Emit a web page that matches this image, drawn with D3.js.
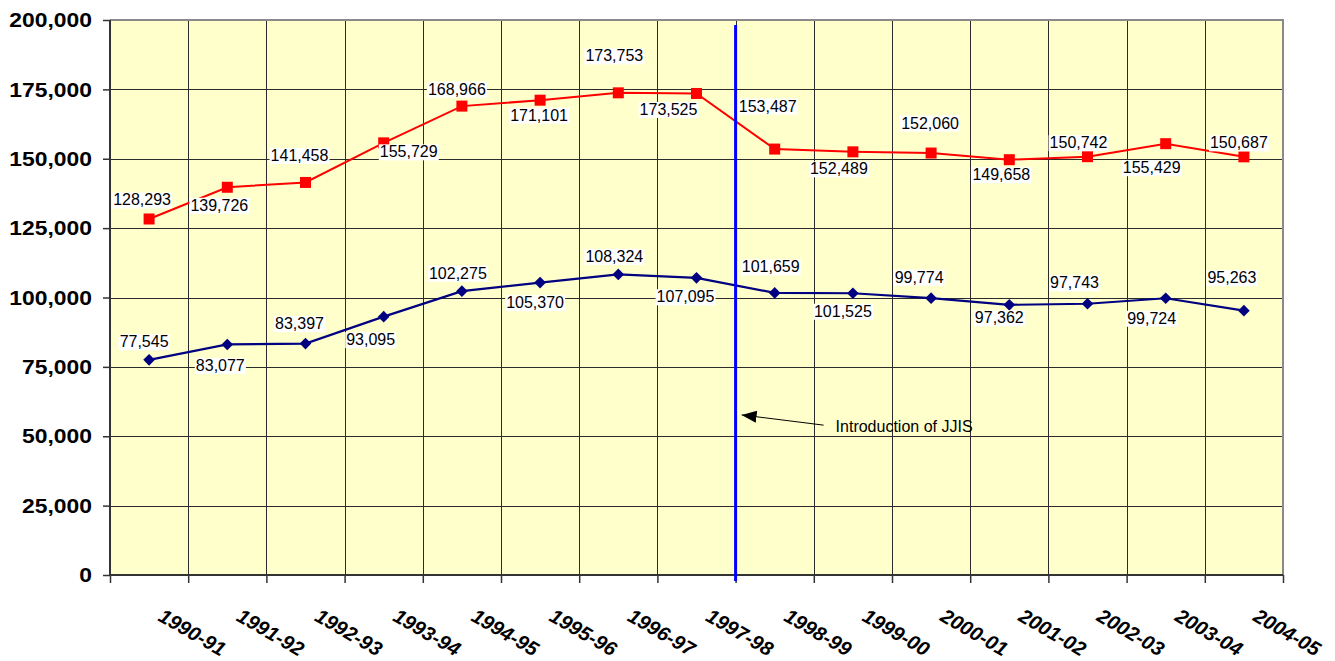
<!DOCTYPE html>
<html>
<head>
<meta charset="utf-8">
<script src="https://cdn.jsdelivr.net/npm/d3@7"></script>
<style>
  html, body { margin: 0; padding: 0; background: #fff; }
  svg { display: block; font-family: Arial, "Liberation Sans", sans-serif; }
</style>
</head>
<body>
<svg id="chart" width="1335" height="661"></svg>
<script>
// Fiscal years on the category axis
const years = ["1990-91","1991-92","1992-93","1993-94","1994-95","1995-96","1996-97",
  "1997-98","1998-99","1999-00","2000-01","2001-02","2002-03","2003-04","2004-05"];

// Upper series (red squares)
const redValues = [128293,139726,141458,155729,168966,171101,173753,173525,
  153487,152489,152060,149658,150742,155429,150687];

// Lower series (navy diamonds)
const blueValues = [77545,83077,83397,93095,102275,105370,108324,107095,
  101659,101525,99774,97362,97743,99724,95263];

// Value-axis tick labels
const yTicks = [0,25000,50000,75000,100000,125000,150000,175000,200000];

// Where JJIS came in: boundary between 1997-98 and 1998-99
const jjisBoundary = 8;
const jjisText = "Introduction of JJIS";

// Data-label placement (offset of label centre from its marker, px)
const redLabelOffsets = [[-7,-19],[-8,18],[-6,-27],[25,9],[-5,-17],[-1,15],[-4,-37],[-28,16],
  [-7,-43],[-14,17],[-1,-30],[-8,15],[-9,-14],[-14,24],[-5,-14]];
const blueLabelOffsets = [[-5,-18],[-7,21],[-6,-20],[-13,23],[-4,-18],[-5,20],[-4,-18],[-11,19],
  [-4,-26],[-10,18],[-12,-21],[-10,13],[-13,-21],[-14,20],[-12,-33]];

const svg = d3.select("#chart");
const plot = {left: 110, right: 1283, top: 20, bottom: 575};

const xb = d3.scaleLinear().domain([0, years.length]).range([plot.left, plot.right]);
const xc = i => xb(i + 0.5);
const y = d3.scaleLinear().domain([0, 200000]).range([plot.bottom, plot.top]);

// Plot background
svg.append("rect")
  .attr("x", plot.left).attr("y", plot.top)
  .attr("width", plot.right - plot.left).attr("height", plot.bottom - plot.top)
  .attr("fill", "#FFFFCC");

// Gridlines
const grid = svg.append("g").attr("stroke", "#2b2b2b").attr("stroke-width", 1);
grid.selectAll("line.h").data(yTicks.slice(1, -1)).join("line")
  .attr("x1", plot.left).attr("x2", plot.right)
  .attr("y1", d => Math.round(y(d)) + 0.5).attr("y2", d => Math.round(y(d)) + 0.5);
grid.selectAll("line.v").data(d3.range(1, years.length)).join("line")
  .attr("y1", plot.top).attr("y2", plot.bottom)
  .attr("x1", d => Math.round(xb(d)) + 0.5).attr("x2", d => Math.round(xb(d)) + 0.5);

// Top and right frame
svg.append("path")
  .attr("d", `M${plot.left},${plot.top}H${plot.right}V${plot.bottom}`)
  .attr("fill", "none").attr("stroke", "#8a8a8a").attr("stroke-width", 2);

// Value axis
const yAxis = svg.append("g")
  .attr("transform", `translate(${plot.left},0)`)
  .call(d3.axisLeft(y).tickValues(yTicks).tickFormat(d3.format(",")).tickSize(7).tickPadding(0));
yAxis.select(".domain").attr("stroke", "#333").attr("stroke-width", 2)
  .attr("d", `M0,${plot.top}V${plot.bottom}`);
yAxis.selectAll(".tick line").attr("stroke", "#333").attr("stroke-width", 1.5);
const yStretch = 1.09;
yAxis.selectAll(".tick text")
  .attr("x", -18 / yStretch)
  .attr("transform", `scale(${yStretch},1)`)
  .attr("fill", "#000")
  .style("font-size", "21px").style("font-weight", "bold");

// Category axis: ticks on band boundaries
const xAxis = svg.append("g")
  .attr("transform", `translate(0,${plot.bottom})`)
  .call(d3.axisBottom(xb).tickValues(d3.range(0, years.length + 1)).tickFormat("").tickSize(8));
xAxis.select(".domain").attr("stroke", "#333").attr("stroke-width", 2)
  .attr("d", `M${plot.left},0H${plot.right}`);
xAxis.selectAll(".tick line").attr("stroke", "#333").attr("stroke-width", 1.5);

// Rotated category labels
svg.append("g").selectAll("text").data(years).join("text")
  .attr("transform", (d, i) => `translate(${xc(i) + 8},620) rotate(30)`)
  .attr("text-anchor", "start")
  .style("font-size", "20px").style("font-weight", "bold").style("font-style", "italic")
  .attr("fill", "#000")
  .text(d => d);

// Series lines and markers
const line = d3.line().x((d, i) => xc(i)).y(d => y(d));

svg.append("path").datum(redValues)
  .attr("d", line).attr("fill", "none").attr("stroke", "#FF0000").attr("stroke-width", 2);
svg.append("path").datum(blueValues)
  .attr("d", line).attr("fill", "none").attr("stroke", "#000080").attr("stroke-width", 2.2);

svg.append("g").selectAll("rect").data(redValues).join("rect")
  .attr("x", (d, i) => xc(i) - 5.5).attr("y", d => y(d) - 5.5)
  .attr("width", 11).attr("height", 11).attr("fill", "#FF0000");

svg.append("g").selectAll("path").data(blueValues).join("path")
  .attr("transform", (d, i) => `translate(${xc(i)},${y(d)}) rotate(45)`)
  .attr("d", d3.symbol().type(d3.symbolSquare).size(68))
  .attr("fill", "#000080");

// Data labels with white backgrounds
function drawLabels(values, offsets) {
  const g = svg.append("g");
  values.forEach((v, i) => {
    const cx = xc(i) + offsets[i][0];
    const cy = y(v) + offsets[i][1];
    const lg = g.append("g");
    const bg = lg.append("rect").attr("fill", "#fff");
    const t = lg.append("text")
      .attr("x", cx).attr("y", cy)
      .attr("text-anchor", "middle").attr("dominant-baseline", "central")
      .style("font-size", "16px").attr("fill", "#000")
      .text(d3.format(",")(v));
    const bb = t.node().getBBox();
    bg.attr("x", bb.x - 1).attr("y", bb.y + 1)
      .attr("width", bb.width + 2).attr("height", bb.height - 1);
  });
}
drawLabels(redValues, redLabelOffsets);
drawLabels(blueValues, blueLabelOffsets);

// JJIS marker line
const jx = xb(jjisBoundary);
svg.append("line")
  .attr("x1", jx).attr("x2", jx)
  .attr("y1", y(200000) + 5).attr("y2", y(0) + 6)
  .attr("stroke", "#0000FF").attr("stroke-width", 3);

// Annotation arrow and caption
svg.append("defs").append("marker")
  .attr("id", "arrowhead").attr("viewBox", "0 0 15 12")
  .attr("refX", 15).attr("refY", 6)
  .attr("markerWidth", 15).attr("markerHeight", 12)
  .attr("markerUnits", "userSpaceOnUse")
  .attr("orient", "auto")
  .append("path").attr("d", "M0,0L15,6L0,12Z").attr("fill", "#000");

svg.append("line")
  .attr("x1", jx + 88).attr("y1", y(54000))
  .attr("x2", jx + 6).attr("y2", y(57700))
  .attr("stroke", "#000").attr("stroke-width", 1)
  .attr("marker-end", "url(#arrowhead)");

svg.append("text")
  .attr("x", jx + 100).attr("y", y(51500))
  .style("font-size", "16px").attr("fill", "#000")
  .text(jjisText);
</script>
</body>
</html>
